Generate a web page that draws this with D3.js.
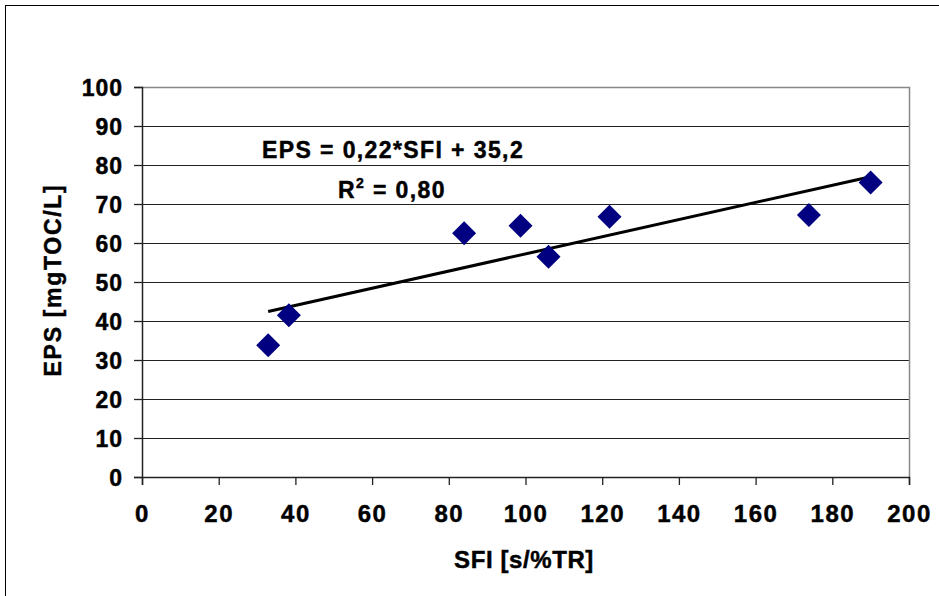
<!DOCTYPE html>
<html><head><meta charset="utf-8">
<script src="https://cdn.jsdelivr.net/npm/d3@7"></script>
<style>body{margin:0;background:#fff}svg{display:block}text{font-family:"Liberation Sans",Arial,sans-serif;font-weight:bold;stroke:#000;stroke-width:0.45px}</style>
</head><body>
<script>
const sfi = [32.9, 38.3, 84.0, 98.7, 106.0, 121.9, 173.9, 190.0];
const eps = [33.8, 41.5, 62.5, 64.4, 56.5, 66.7, 67.2, 75.5];
const xTicks = [0,20,40,60,80,100,120,140,160,180,200];
const yTicks = [0,10,20,30,40,50,60,70,80,90,100];
const slope = 0.22, intercept = 35.2;
const trendRange = [32.9, 190.0];
const eqText = "EPS = 0,22*SFI + 35,2";

const W = 939, H = 596;
const svg = d3.select("body").append("svg").attr("width", W).attr("height", H);
svg.append("rect").attr("x",5.5).attr("y",5.5).attr("width",940).attr("height",600)
  .attr("fill","none").attr("stroke","#000").attr("stroke-width",1);

const x = d3.scaleLinear().domain([0,200]).range([142,909]);
const y = d3.scaleLinear().domain([0,100]).range([477,87]);

// gridlines
svg.append("g").selectAll("line").data(yTicks.filter(d=>d>0)).join("line")
  .attr("x1",x(0)).attr("x2",x(200)).attr("y1",d=>Math.round(y(d))+0.5).attr("y2",d=>Math.round(y(d))+0.5)
  .attr("stroke","#222").attr("stroke-width",1);
// plot border (top/right gray)
svg.append("path").attr("d",`M${x(0)},${Math.round(y(100))+0.5}H${x(200)+0.5}V${y(0)}`)
  .attr("fill","none").attr("stroke","#888").attr("stroke-width",1.5);

const yAxis = svg.append("g").attr("transform",`translate(${x(0)},0)`)
  .call(d3.axisLeft(y).tickValues(yTicks).tickSize(8).tickPadding(12).tickFormat(d3.format("d")));
const xAxis = svg.append("g").attr("transform",`translate(0,${y(0)})`)
  .call(d3.axisBottom(x).tickValues(xTicks).tickSize(8).tickPadding(20).tickFormat(d3.format("d")));
[yAxis,xAxis].forEach(a=>{
  a.select(".domain").attr("stroke","#222").attr("stroke-width",1.5);
  a.selectAll(".tick line").attr("stroke","#222").attr("stroke-width",1.3);
  a.selectAll("text").attr("fill","#000").attr("font-family","Liberation Sans, Arial, sans-serif").attr("font-weight","bold");
});
yAxis.selectAll("text").attr("font-size",23).attr("letter-spacing","1px").attr("dx","1px").attr("dy","0.36em");
xAxis.selectAll("text").attr("font-size",24).attr("letter-spacing","1.5px");

// trendline
svg.append("line").attr("x1",x(trendRange[0])).attr("y1",y(slope*trendRange[0]+intercept))
  .attr("x2",x(trendRange[1])).attr("y2",y(slope*trendRange[1]+intercept))
  .attr("stroke","#000").attr("stroke-width",3);

// points
const pts = sfi.map((v,i)=>({x:v,y:eps[i]}));
svg.append("g").selectAll("path").data(pts).join("path")
  .attr("d",d=>{const cx=x(d.x), cy=y(d.y), r=12; return `M${cx},${cy-r}L${cx+r},${cy}L${cx},${cy+r}L${cx-r},${cy}Z`;})
  .attr("fill","#000080");

// equation
svg.append("text").attr("x",262).attr("y",158).attr("font-size",23).attr("letter-spacing","1.4px").text(eqText);
const r2 = svg.append("text").attr("x",338).attr("y",198).attr("font-size",23).attr("letter-spacing","1.4px");
r2.append("tspan").text("R");
r2.append("tspan").attr("font-size",14).attr("dy",-10).text("2");
r2.append("tspan").attr("dy",10).text(" = 0,80");

// axis titles
svg.append("text").attr("x",524).attr("y",568).attr("text-anchor","middle").attr("font-size",24).attr("letter-spacing","0.6px").text("SFI [s/%TR]");
svg.append("text").attr("transform","translate(61,280) rotate(-90)").attr("text-anchor","middle").attr("font-size",23).attr("letter-spacing","1.7px").text("EPS [mgTOC/L]");
</script>
</body></html>
